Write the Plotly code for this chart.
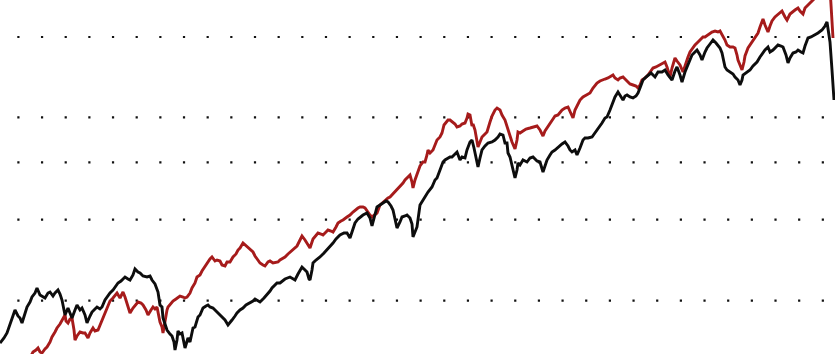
import plotly.graph_objects as go

# ---- data (index level) ----
black_x = [0,4,7,10,12,15,18,20,22,25,27,30,32,35,37,40,43,45,48,50,53,55,58,60,62,65,68,70,72,75,77,80,82,85,87,90,92,95,97,100,
           102,105,107,110,113,116,118,121,125,128,130,133,135,138,140,143,147,150,152,155,158,160,162,163,165,167,170,172,174,175,
           177,178,180,182,185,188,190,193,195,198,200,203,206,208,210,213,216,220,223,225,228,230,232,235,237,240,243,246,250,253,
           255,258,260,264,267,270,272,275,277,280,285,290,293,295,298,302,305,307,309,310,312,313,316,320,324,327,330,333,336,340,
           344,347,350,352,355,358,360,363,367,370,372,375,377,380,383,386,388,391,393,395,397,400,402,405,407,410,412,413,415,417,
           420,423,425,428,432,435,437,440,443,445,450,452,455,457,460,462,465,467,470,472,474,475,478,480,482,485,488,492,495,498,
           500,503,505,507,508,510,513,515,517,518,520,523,527,530,533,537,540,542,543,545,547,550,552,555,558,562,565,568,570,572,
           575,577,580,583,585,588,592,595,598,602,605,607,610,613,615,618,620,623,625,627,630,633,636,638,640,643,646,648,651,655,
           658,662,665,668,670,672,675,677,680,682,685,687,690,692,695,697,700,702,705,707,710,713,716,718,720,722,724,725,727,730,
           733,735,738,740,742,743,746,750,753,757,760,763,765,768,770,773,776,778,781,783,786,788,790,793,796,798,801,803,805,808,
           811,815,818,822,825,827,829,830,832,834]
black_y = [11,16,21,29,34,44,38,36,31,42,47,52,57,61,66,59,57,56,61,62,58,61,64,60,54,39,46,40,36,44,49,44,46,39,31,38,42,45,47,45,
           47,54,57,61,64,68,71,73,77,75,74,79,85,82,81,78,77,78,74,70,62,49,47,36,31,24,20,18,12,4,
           14,23,20,21,6,16,12,26,27,37,39,46,48,49,47,46,43,39,36,34,29,31,34,38,41,44,46,49,51,53,
           55,53,52,56,59,63,66,69,71,71,75,77,75,74,80,87,84,82,75,74,84,91,94,97,101,104,107,111,115,119,
           121,121,116,123,131,135,137,139,141,136,128,140,147,149,151,153,152,148,144,134,126,132,137,138,139,136,130,117,122,127,
           149,154,157,162,167,174,176,184,192,194,197,197,200,202,194,197,196,204,212,214,206,201,187,196,204,208,211,212,214,217,
           220,219,211,211,201,197,184,176,184,191,189,194,192,196,197,193,192,184,182,188,194,199,202,204,207,210,212,208,204,202,
           204,199,206,214,216,216,217,221,226,231,236,237,244,252,257,262,259,254,258,259,257,256,258,261,266,274,277,279,281,277,
           282,282,284,279,276,274,283,287,279,272,282,287,294,299,302,304,299,294,302,306,310,314,311,309,306,301,292,287,284,282,
           280,277,274,269,274,279,281,284,288,292,297,302,304,307,302,304,307,309,308,307,299,291,296,301,302,304,302,301,308,316,
           317,319,321,324,328,332,319,312,284,254]

red_x = [30,33,36,38,40,42,45,47,50,52,55,57,60,62,65,66,68,70,72,74,75,77,80,83,85,88,90,93,95,98,100,103,106,108,110,113,115,117,120,123,
         125,127,130,133,136,138,141,143,146,148,151,153,155,157,160,162,163,165,167,168,171,173,176,180,183,185,187,190,192,195,
         197,200,202,205,207,210,212,215,217,220,222,225,227,230,233,236,238,240,243,245,248,250,253,255,258,260,263,265,268,270,
         273,276,278,280,285,288,290,293,297,300,302,305,307,310,313,316,318,321,323,326,328,331,333,336,338,341,343,347,350,353,
         355,358,360,363,365,368,370,372,375,377,380,383,385,388,390,393,395,398,400,403,405,408,410,412,413,415,418,420,423,425,
         427,428,430,433,435,437,440,442,444,445,448,450,453,455,457,460,462,465,467,468,470,472,473,475,478,480,482,485,487,490,
         492,495,497,500,502,505,507,510,512,515,517,518,520,523,526,530,533,537,540,542,543,545,548,550,553,555,558,562,565,568,
         570,573,575,578,580,583,587,590,593,597,600,602,605,608,610,613,615,618,620,623,625,628,630,633,636,638,640,642,645,648,
         650,653,656,660,663,665,667,670,672,675,677,680,683,685,688,690,693,695,698,700,703,705,708,712,715,718,720,723,725,727,
         730,733,735,737,738,740,742,744,745,748,750,753,755,758,760,762,763,765,767,768,770,772,775,777,780,782,785,787,790,792,
         795,798,800,803,805,808,810,812,815,818,822,826,830,833]
red_y = [-4,2,4,6,2,1,5,7,12,17,22,26,30,34,39,33,31,35,36,24,14,18,22,21,21,16,21,26,23,24,29,37,44,49,53,56,59,61,56,62,
         57,51,41,46,50,52,51,49,44,39,44,47,45,47,32,27,21,34,44,47,51,53,55,58,57,56,57,61,66,71,
         77,79,83,88,91,95,97,93,94,93,89,88,92,92,97,100,104,106,111,109,107,105,102,98,93,91,89,88,92,93,
         91,92,92,94,97,100,102,105,108,114,118,114,111,106,115,119,121,120,119,122,124,123,122,127,131,133,134,137,139,142,
         144,146,147,147,146,141,139,137,139,141,149,152,154,156,157,160,162,165,167,171,174,177,179,172,166,174,182,188,192,192,
         199,204,201,204,209,214,217,221,229,230,234,234,232,230,227,228,230,231,236,240,239,228,230,224,207,212,217,220,222,232,
         238,244,246,244,239,234,227,219,212,205,214,222,221,223,225,226,227,228,224,220,218,223,228,231,235,238,239,244,246,247,
         242,236,244,251,254,257,259,261,266,271,273,274,275,276,277,279,276,274,276,277,275,272,270,269,268,266,269,274,276,279,
         282,286,287,289,291,292,287,277,286,296,293,289,282,289,297,302,307,309,312,314,317,317,319,322,323,322,323,318,314,309,
         307,307,306,299,294,289,284,292,298,306,309,314,317,321,327,332,335,329,324,322,328,333,337,339,342,343,337,334,340,342,
         344,346,343,340,346,349,351,354,356,358,360,362,366,316]

grid_levels = [53.3, 134.3, 191.7, 236.7, 317]

fig = go.Figure()
fig.add_trace(go.Scatter(x=red_x, y=red_y, mode="lines",
                         line=dict(color="#a61b1b", width=2.9), name="red"))
fig.add_trace(go.Scatter(x=black_x, y=black_y, mode="lines",
                         line=dict(color="#0d0d0d", width=2.9), name="black"))

shapes = []
for g in grid_levels:
    shapes.append(dict(type="line", xref="paper", yref="y", x0=17.3 / 835, x1=1, y0=g, y1=g,
                       line=dict(color="#111111", width=2.2, dash="2.2px,21.46px"), layer="below"))

fig.update_layout(
    width=835, height=354,
    margin=dict(l=0, r=0, t=0, b=0),
    paper_bgcolor="white", plot_bgcolor="white",
    showlegend=False,
    shapes=shapes,
    xaxis=dict(range=[0, 835], visible=False, showgrid=False, zeroline=False, fixedrange=True),
    yaxis=dict(range=[0, 354], visible=False, showgrid=False, zeroline=False, fixedrange=True),
)

fig.write_html("out.html", config={"displayModeBar": False})
